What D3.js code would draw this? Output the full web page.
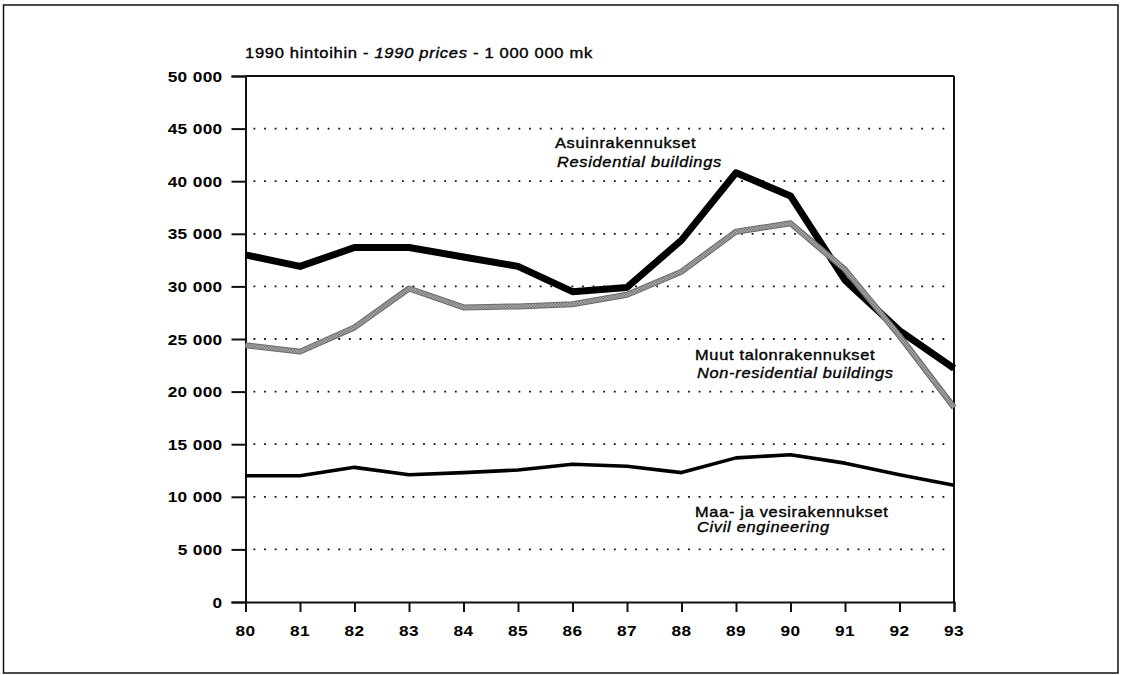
<!DOCTYPE html>
<html>
<head>
<meta charset="utf-8">
<script src="https://cdn.jsdelivr.net/npm/d3@7"></script>
<style>
  body { margin: 0; background: #fff; }
  svg { display: block; }
  text { font-family: "Liberation Sans", Arial, sans-serif; fill: #000; }
  .tick-label { font-size: 15px; font-weight: bold; letter-spacing: 0.3px; }
  .note { font-size: 14px; letter-spacing: 0.6px; stroke: #000; stroke-width: 0.35px; }
  .note.it { font-style: italic; }
</style>
</head>
<body>
<svg id="chart" width="1121" height="675"></svg>
<script>
const width = 1121;
const height = 675;

const margin = { top: 76, right: 167, bottom: 73, left: 245.5 };

/* DATA */
const years = [80, 81, 82, 83, 84, 85, 86, 87, 88, 89, 90, 91, 92, 93];
const residential = [33000, 31900, 33700, 33700, 32800, 31900, 29500, 29900, 34400, 40800, 38600, 30600, 25800, 22200];
const nonResidential = [24400, 23800, 26100, 29800, 28000, 28100, 28300, 29200, 31400, 35200, 36000, 31600, 25300, 18500];
const civil = [12000, 12000, 12800, 12100, 12300, 12550, 13100, 12900, 12300, 13700, 14000, 13200, 12100, 11100];
const yTicks = [0, 5000, 10000, 15000, 20000, 25000, 30000, 35000, 40000, 45000, 50000];

const svg = d3.select("#chart");

// outer frame
svg.append("rect")
  .attr("x", 3.5).attr("y", 5)
  .attr("width", 1114.5).attr("height", 668)
  .attr("fill", "none").attr("stroke", "#111").attr("stroke-width", 1.5);

const plot = svg.append("g").attr("transform", translate(margin.left, margin.top));
const plotWidth = width - margin.left - margin.right;
const plotHeight = height - margin.top - margin.bottom;

/* SCALES */
const x = d3.scaleLinear().domain([80, 93]).range([0, plotWidth]);
const y = d3.scaleLinear().domain([0, 50000]).range([plotHeight, 0]);

const fmt = d => d === 0 ? "0" : d3.format(",")(d).replace(",", " ");

/* GRID */
plot.append("g")
  .selectAll("line")
  .data(yTicks.filter(d => d > 0 && d < 50000))
  .enter().append("line")
  .attr("x1", 8).attr("x2", plotWidth)
  .attr("y1", d => y(d)).attr("y2", d => y(d))
  .attr("stroke", "#111").attr("stroke-width", 1.8)
  .attr("stroke-dasharray", "1.8,8.8");

/* AXES */
const yAxis = d3.axisLeft(y).tickValues(yTicks).tickSize(14).tickFormat("");
const yG = plot.append("g").call(yAxis);
const xAxis = d3.axisBottom(x).tickValues(years).tickSize(10).tickFormat("");
const xG = plot.append("g").attr("transform", translate(0, plotHeight)).call(xAxis);

[yG, xG].forEach(g => {
  g.select(".domain").attr("stroke", "#111").attr("stroke-width", 2);
  g.selectAll(".tick line").attr("stroke", "#111").attr("stroke-width", 2);
});

// top and right border of the plot
plot.append("line").attr("x1", 0).attr("x2", plotWidth).attr("y1", 0).attr("y2", 0)
  .attr("stroke", "#111").attr("stroke-width", 2);
plot.append("line").attr("x1", plotWidth).attr("x2", plotWidth).attr("y1", 0).attr("y2", plotHeight)
  .attr("stroke", "#111").attr("stroke-width", 2);

// tick labels, stretched a little like the scanned original
yTicks.forEach(d => {
  stretchText(plot, -23, y(d) + 5.5, fmt(d), "end", "tick-label", 1.15);
});
years.forEach(d => {
  stretchText(plot, x(d), plotHeight + 34, String(d), "middle", "tick-label", 1.15);
});

/* PATTERN for the grey line */
const defs = svg.append("defs");
const pat = defs.append("pattern")
  .attr("id", "stipple")
  .attr("patternUnits", "userSpaceOnUse")
  .attr("width", 3).attr("height", 3);
pat.append("rect").attr("width", 3).attr("height", 3).attr("fill", "#c8c8c8");
pat.append("rect").attr("width", 1.5).attr("height", 1.5).attr("fill", "#5a5a5a");
pat.append("rect").attr("x", 1.5).attr("y", 1.5).attr("width", 1.5).attr("height", 1.5).attr("fill", "#5a5a5a");

/* LINES */
const line = d3.line()
  .x((d, i) => x(years[i]))
  .y(d => y(d));

plot.append("path").datum(civil)
  .attr("d", line).attr("fill", "none")
  .attr("stroke", "#000").attr("stroke-width", 3.6)
  .attr("stroke-linejoin", "round");

plot.append("path").datum(residential)
  .attr("d", line).attr("fill", "none")
  .attr("stroke", "#000").attr("stroke-width", 7)
  .attr("stroke-linejoin", "round");

plot.append("path").datum(nonResidential)
  .attr("d", line).attr("fill", "none")
  .attr("stroke", "#6a6a6a").attr("stroke-width", 6)
  .attr("stroke-linejoin", "round");
plot.append("path").datum(nonResidential)
  .attr("d", line).attr("fill", "none")
  .attr("stroke", "url(#stipple)").attr("stroke-width", 4)
  .attr("stroke-linejoin", "round");

/* TEXTS */
const title = svg.append("text").attr("class", "note")
  .attr("transform", translate(245, 58) + " scale(1.18,1)");
title.append("tspan").text("1990 hintoihin -  ");
title.append("tspan").style("font-style", "italic").text("1990 prices");
title.append("tspan").text(" - 1 000 000 mk");

stretchText(svg, 555, 148, "Asuinrakennukset", "start", "note", 1.17);
stretchText(svg, 557, 167, "Residential buildings", "start", "note it", 1.17);
stretchText(svg, 695, 360, "Muut talonrakennukset", "start", "note", 1.17);
stretchText(svg, 697, 378, "Non-residential buildings", "start", "note it", 1.17);
stretchText(svg, 695, 517, "Maa- ja vesirakennukset", "start", "note", 1.17);
stretchText(svg, 697, 532, "Civil engineering", "start", "note it", 1.17);


function stretchText(parent, tx, ty, str, anchor, cls, sx) {
  return parent.append("text")
    .attr("class", cls)
    .attr("text-anchor", anchor)
    .attr("transform", translate(tx, ty) + " scale(" + sx + ",1)")
    .text(str);
}

function translate(tx, ty) {
  return "translate(" + String(tx) + "," + String(ty) + ")";
}
</script>
</body>
</html>
